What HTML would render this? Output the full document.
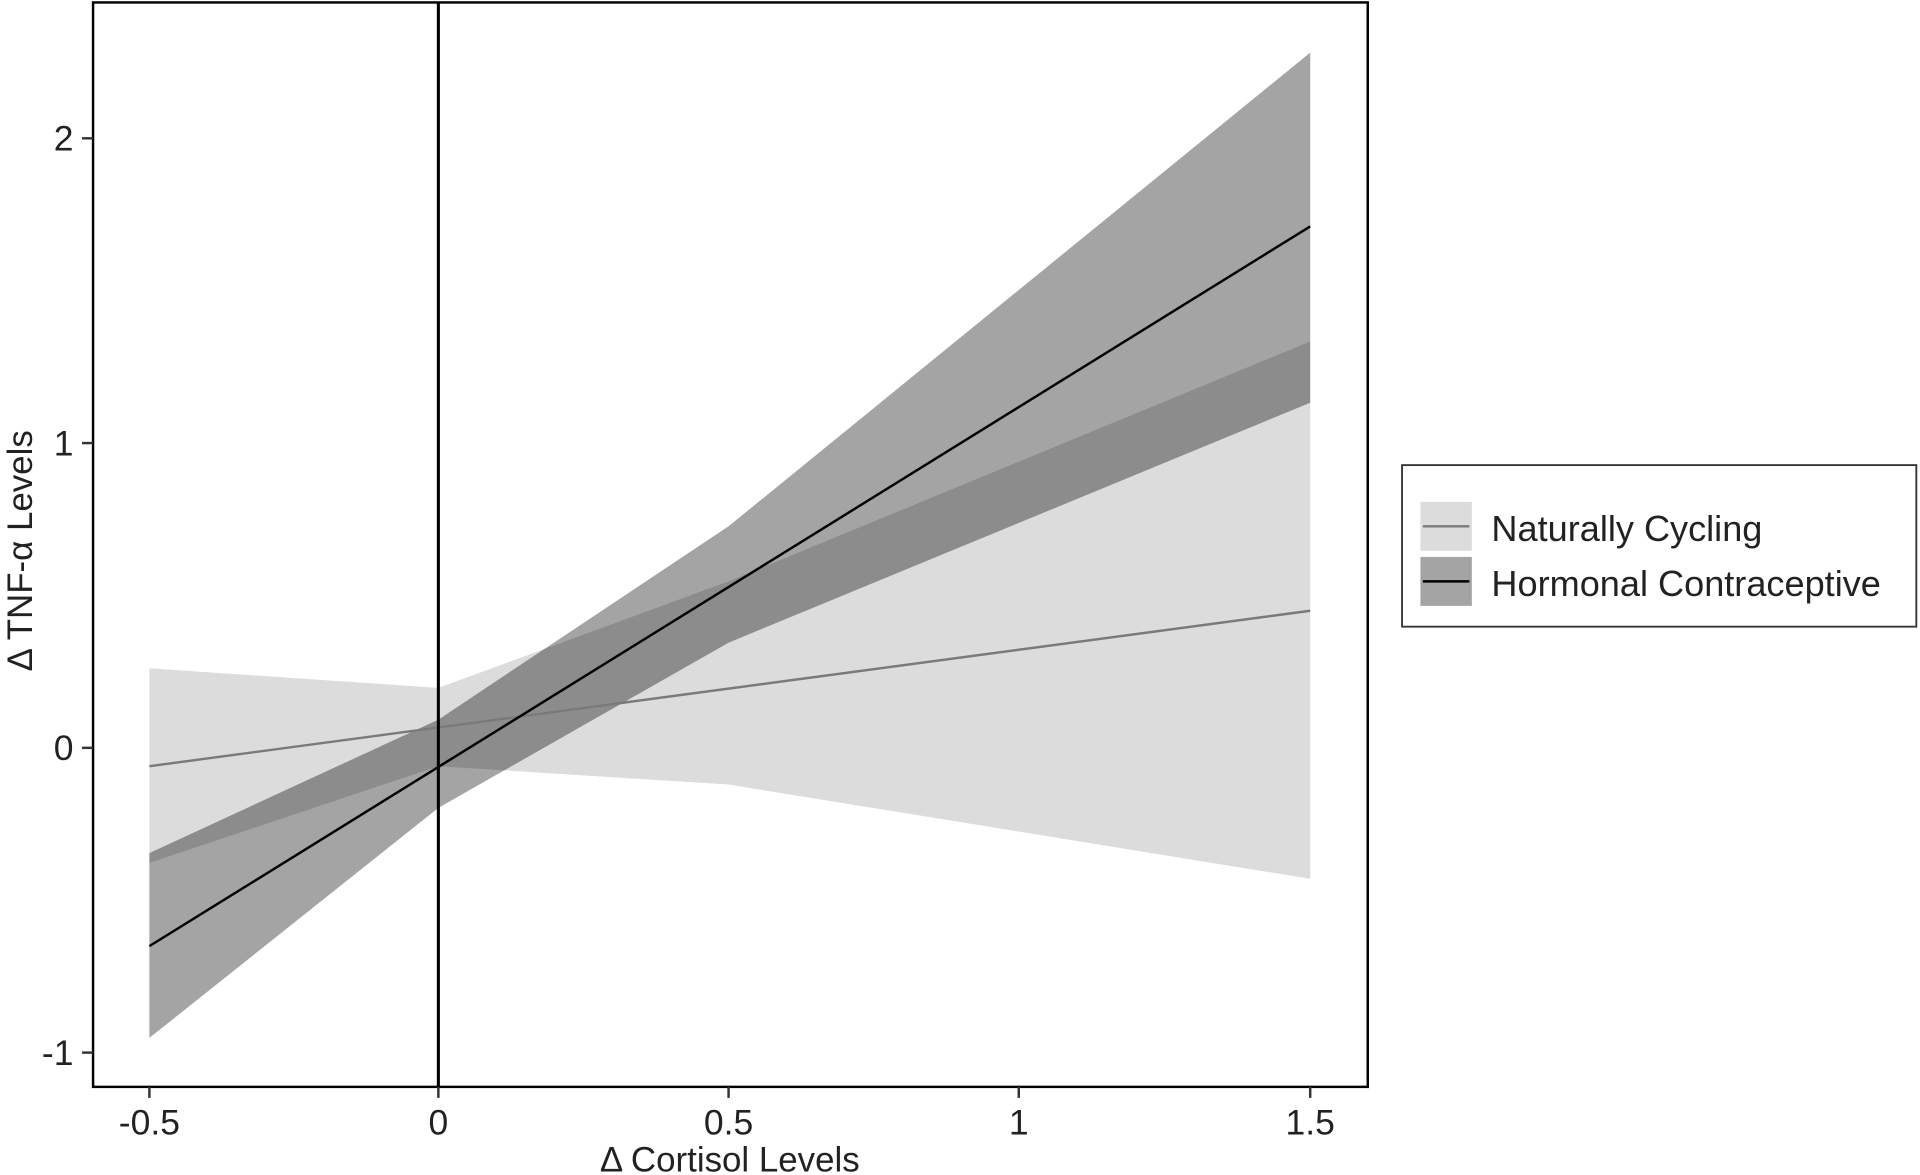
<!DOCTYPE html>
<html><head><meta charset="utf-8"><style>html,body{margin:0;padding:0;background:#fff}svg{display:block}</style></head>
<body>
<svg width="1920" height="1175" viewBox="0 0 1568 960" preserveAspectRatio="none" xmlns="http://www.w3.org/2000/svg" font-family="Liberation Sans, Arial, sans-serif">
<defs>
<clipPath id="hc"><polygon points="122,697 358,588 595,430 1070,43 1070,329 595,525 358,660 122,848"/></clipPath>
</defs>
<rect x="0" y="0" width="1568" height="960" fill="#fff"/>
<polygon points="122,546 358,562 595,475 1070,279 1070,718 595,641 358,626 122,705" fill="#dcdcdc"/>
<polygon points="122,697 358,588 595,430 1070,43 1070,329 595,525 358,660 122,848" fill="#a4a4a4"/>
<polygon clip-path="url(#hc)" points="122,546 358,562 595,475 1070,279 1070,718 595,641 358,626 122,705" fill="#8c8c8c"/>
<line x1="122" y1="626" x2="1070" y2="499" stroke="#7a7a7a" stroke-width="2"/>
<line x1="122" y1="773" x2="1070" y2="185" stroke="#000" stroke-width="2"/>
<line x1="358" y1="2" x2="358" y2="888" stroke="#000" stroke-width="2.5"/>
<rect x="76" y="2" width="1041" height="886" fill="none" stroke="#000" stroke-width="2"/>
<g stroke="#333" stroke-width="2">
<line x1="122" y1="888" x2="122" y2="897"/><line x1="358" y1="888" x2="358" y2="897"/><line x1="595" y1="888" x2="595" y2="897"/><line x1="832" y1="888" x2="832" y2="897"/><line x1="1070" y1="888" x2="1070" y2="897"/>
<line x1="67" y1="113" x2="76" y2="113"/><line x1="67" y1="362" x2="76" y2="362"/><line x1="67" y1="611" x2="76" y2="611"/><line x1="67" y1="860" x2="76" y2="860"/>
</g>
<g font-size="29" fill="#222" text-anchor="middle">
<text x="122" y="927">-0.5</text><text x="358" y="927">0</text><text x="595" y="927">0.5</text><text x="832" y="927">1</text><text x="1070" y="927">1.5</text>
</g>
<g font-size="29" fill="#222" text-anchor="end">
<text x="60" y="123">2</text><text x="60" y="372">1</text><text x="60" y="621">0</text><text x="60" y="870">-1</text>
</g>
<text x="596" y="957" font-size="28.5" text-anchor="middle" fill="#222">Δ Cortisol Levels</text>
<text transform="translate(26,450) rotate(-90)" font-size="28.5" text-anchor="middle" fill="#222">Δ TNF-α Levels</text>
<rect x="1145" y="380" width="420" height="132" fill="#fff" stroke="#333" stroke-width="1.5"/>
<rect x="1160" y="410" width="42" height="40" fill="#dcdcdc"/>
<line x1="1162" y1="430" x2="1200" y2="430" stroke="#7a7a7a" stroke-width="2"/>
<rect x="1160" y="455" width="42" height="40" fill="#a4a4a4"/>
<line x1="1162" y1="475" x2="1200" y2="475" stroke="#000" stroke-width="2"/>
<text x="1218" y="442" font-size="29.5" fill="#222">Naturally Cycling</text>
<text x="1218" y="487" font-size="29.5" fill="#222">Hormonal Contraceptive</text>
</svg>
</body></html>
